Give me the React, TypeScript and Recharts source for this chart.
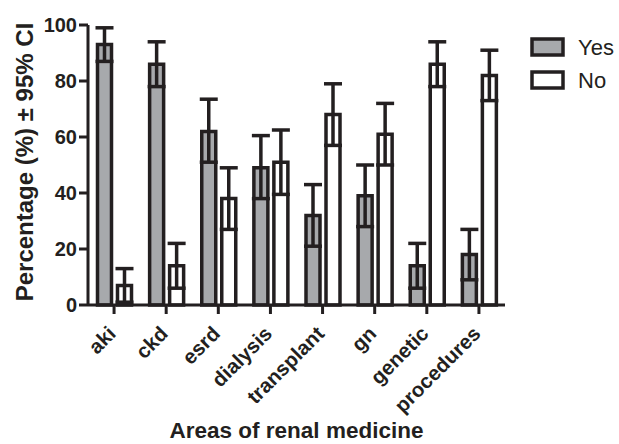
import React from 'react';
import { BarChart, Bar, XAxis, YAxis, ErrorBar, Legend } from 'recharts';

const categories = ['aki', 'ckd', 'esrd', 'dialysis', 'transplant', 'gn', 'genetic', 'procedures'];
const yesValues = [93, 86, 62, 49, 32, 39, 14, 18];
const yesLower = [87, 78, 51, 38, 21, 28, 6, 9];
const yesUpper = [99, 94, 73.5, 60.5, 43, 50, 22, 27];
const noValues = [7, 14, 38, 51, 68, 61, 86, 82];
const noLower = [1, 6, 27, 39.5, 57, 50, 78, 73];
const noUpper = [13, 22, 49, 62.5, 79, 72, 94, 91];
const yTicks = [0, 20, 40, 60, 80, 100];
const seriesNames = ['Yes', 'No'];
const yTitle = 'Percentage (%) ± 95% CI';
const xTitle = 'Areas of renal medicine';

const INK = '#231f20';
const GREY = '#a7a9ac';
const FONT = '"Liberation Sans", Arial, Helvetica, sans-serif';

const data = categories.map((c, i) => ({
  name: c,
  yes: yesValues[i],
  yesErr: [yesValues[i] - yesLower[i], yesUpper[i] - yesValues[i]],
  no: noValues[i],
  noErr: [noValues[i] - noLower[i], noUpper[i] - noValues[i]],
}));

const XTick = (props: any) => {
  const { x, y, payload } = props;
  const ax = x + 3;
  const ay = y + 19;
  return (
    <text
      x={ax}
      y={ay}
      transform={`rotate(-45, ${ax}, ${ay})`}
      textAnchor="end"
      fontFamily={FONT}
      fontSize={20.5}
      fontWeight="bold"
      fill={INK}
    >
      {payload.value}
    </text>
  );
};

const YTick = (props: any) => {
  const { x, y, payload } = props;
  return (
    <text
      x={x}
      y={y}
      dy={7}
      textAnchor="end"
      fontFamily={FONT}
      fontSize={20}
      fontWeight="bold"
      fill={INK}
    >
      {payload.value}
    </text>
  );
};

const YTitle = (props: any) => {
  const vb = props.viewBox;
  const tx = vb.x + 33;
  const ty = vb.y + vb.height / 2 - 3;
  return (
    <text
      x={tx}
      y={ty}
      transform={`rotate(-90, ${tx}, ${ty})`}
      textAnchor="middle"
      fontFamily={FONT}
      fontSize={24}
      fontWeight="bold"
      fill={INK}
    >
      {yTitle}
    </text>
  );
};

const XTitle = (props: any) => {
  const vb = props.viewBox;
  return (
    <text
      x={vb.x + vb.width / 2}
      y={vb.y + 133}
      textAnchor="middle"
      fontFamily={FONT}
      fontSize={22.5}
      fontWeight="bold"
      fill={INK}
    >
      {xTitle}
    </text>
  );
};

const renderLegend = () => (
  <div style={{ fontFamily: FONT }}>
    {seriesNames.map((n, i) => (
      <div key={n} style={{ display: 'flex', alignItems: 'center', height: 33 }}>
        <svg width={36} height={22} style={{ display: 'block' }}>
          <rect x={2} y={2} width={31} height={16} fill={i === 0 ? GREY : '#ffffff'} stroke={INK} strokeWidth={3.5} />
        </svg>
        <span style={{ fontSize: 22, color: INK, marginLeft: 12, lineHeight: '22px' }}>{n}</span>
      </div>
    ))}
  </div>
);

export default function App() {
  return (
    <div style={{ position: 'absolute', left: 0, top: 0, width: 619, height: 444, background: '#fff' }}>
      <BarChart
        width={619}
        height={444}
        data={data}
        margin={{ top: 25, right: 114, bottom: 0, left: 0 }}
        barCategoryGap={9.5}
        barGap={6}
      >
        <XAxis
          dataKey="name"
          height={139}
          tickSize={9}
          tickMargin={2}
          axisLine={{ stroke: INK, strokeWidth: 3 }}
          tickLine={{ stroke: INK, strokeWidth: 3 }}
          tick={<XTick />}
          interval={0}
          label={XTitle}
        />
        <YAxis
          width={88}
          domain={[0, 100]}
          ticks={yTicks}
          tickSize={9}
          tickMargin={2}
          axisLine={{ stroke: INK, strokeWidth: 3 }}
          tickLine={{ stroke: INK, strokeWidth: 3 }}
          tick={<YTick />}
          label={YTitle}
        />
        <Legend
          layout="vertical"
          align="center"
          verticalAlign="middle"
          content={renderLegend}
          wrapperStyle={{ left: 530, top: 31, width: 90, height: 70 }}
        />
        <Bar dataKey="yes" name="Yes" fill={GREY} stroke={INK} strokeWidth={3.5} isAnimationActive={false}>
          <ErrorBar dataKey="yesErr" width={9} stroke={INK} strokeWidth={3.5} direction="y" />
        </Bar>
        <Bar dataKey="no" name="No" fill="#ffffff" stroke={INK} strokeWidth={3.5} isAnimationActive={false}>
          <ErrorBar dataKey="noErr" width={9} stroke={INK} strokeWidth={3.5} direction="y" />
        </Bar>
      </BarChart>
    </div>
  );
}
